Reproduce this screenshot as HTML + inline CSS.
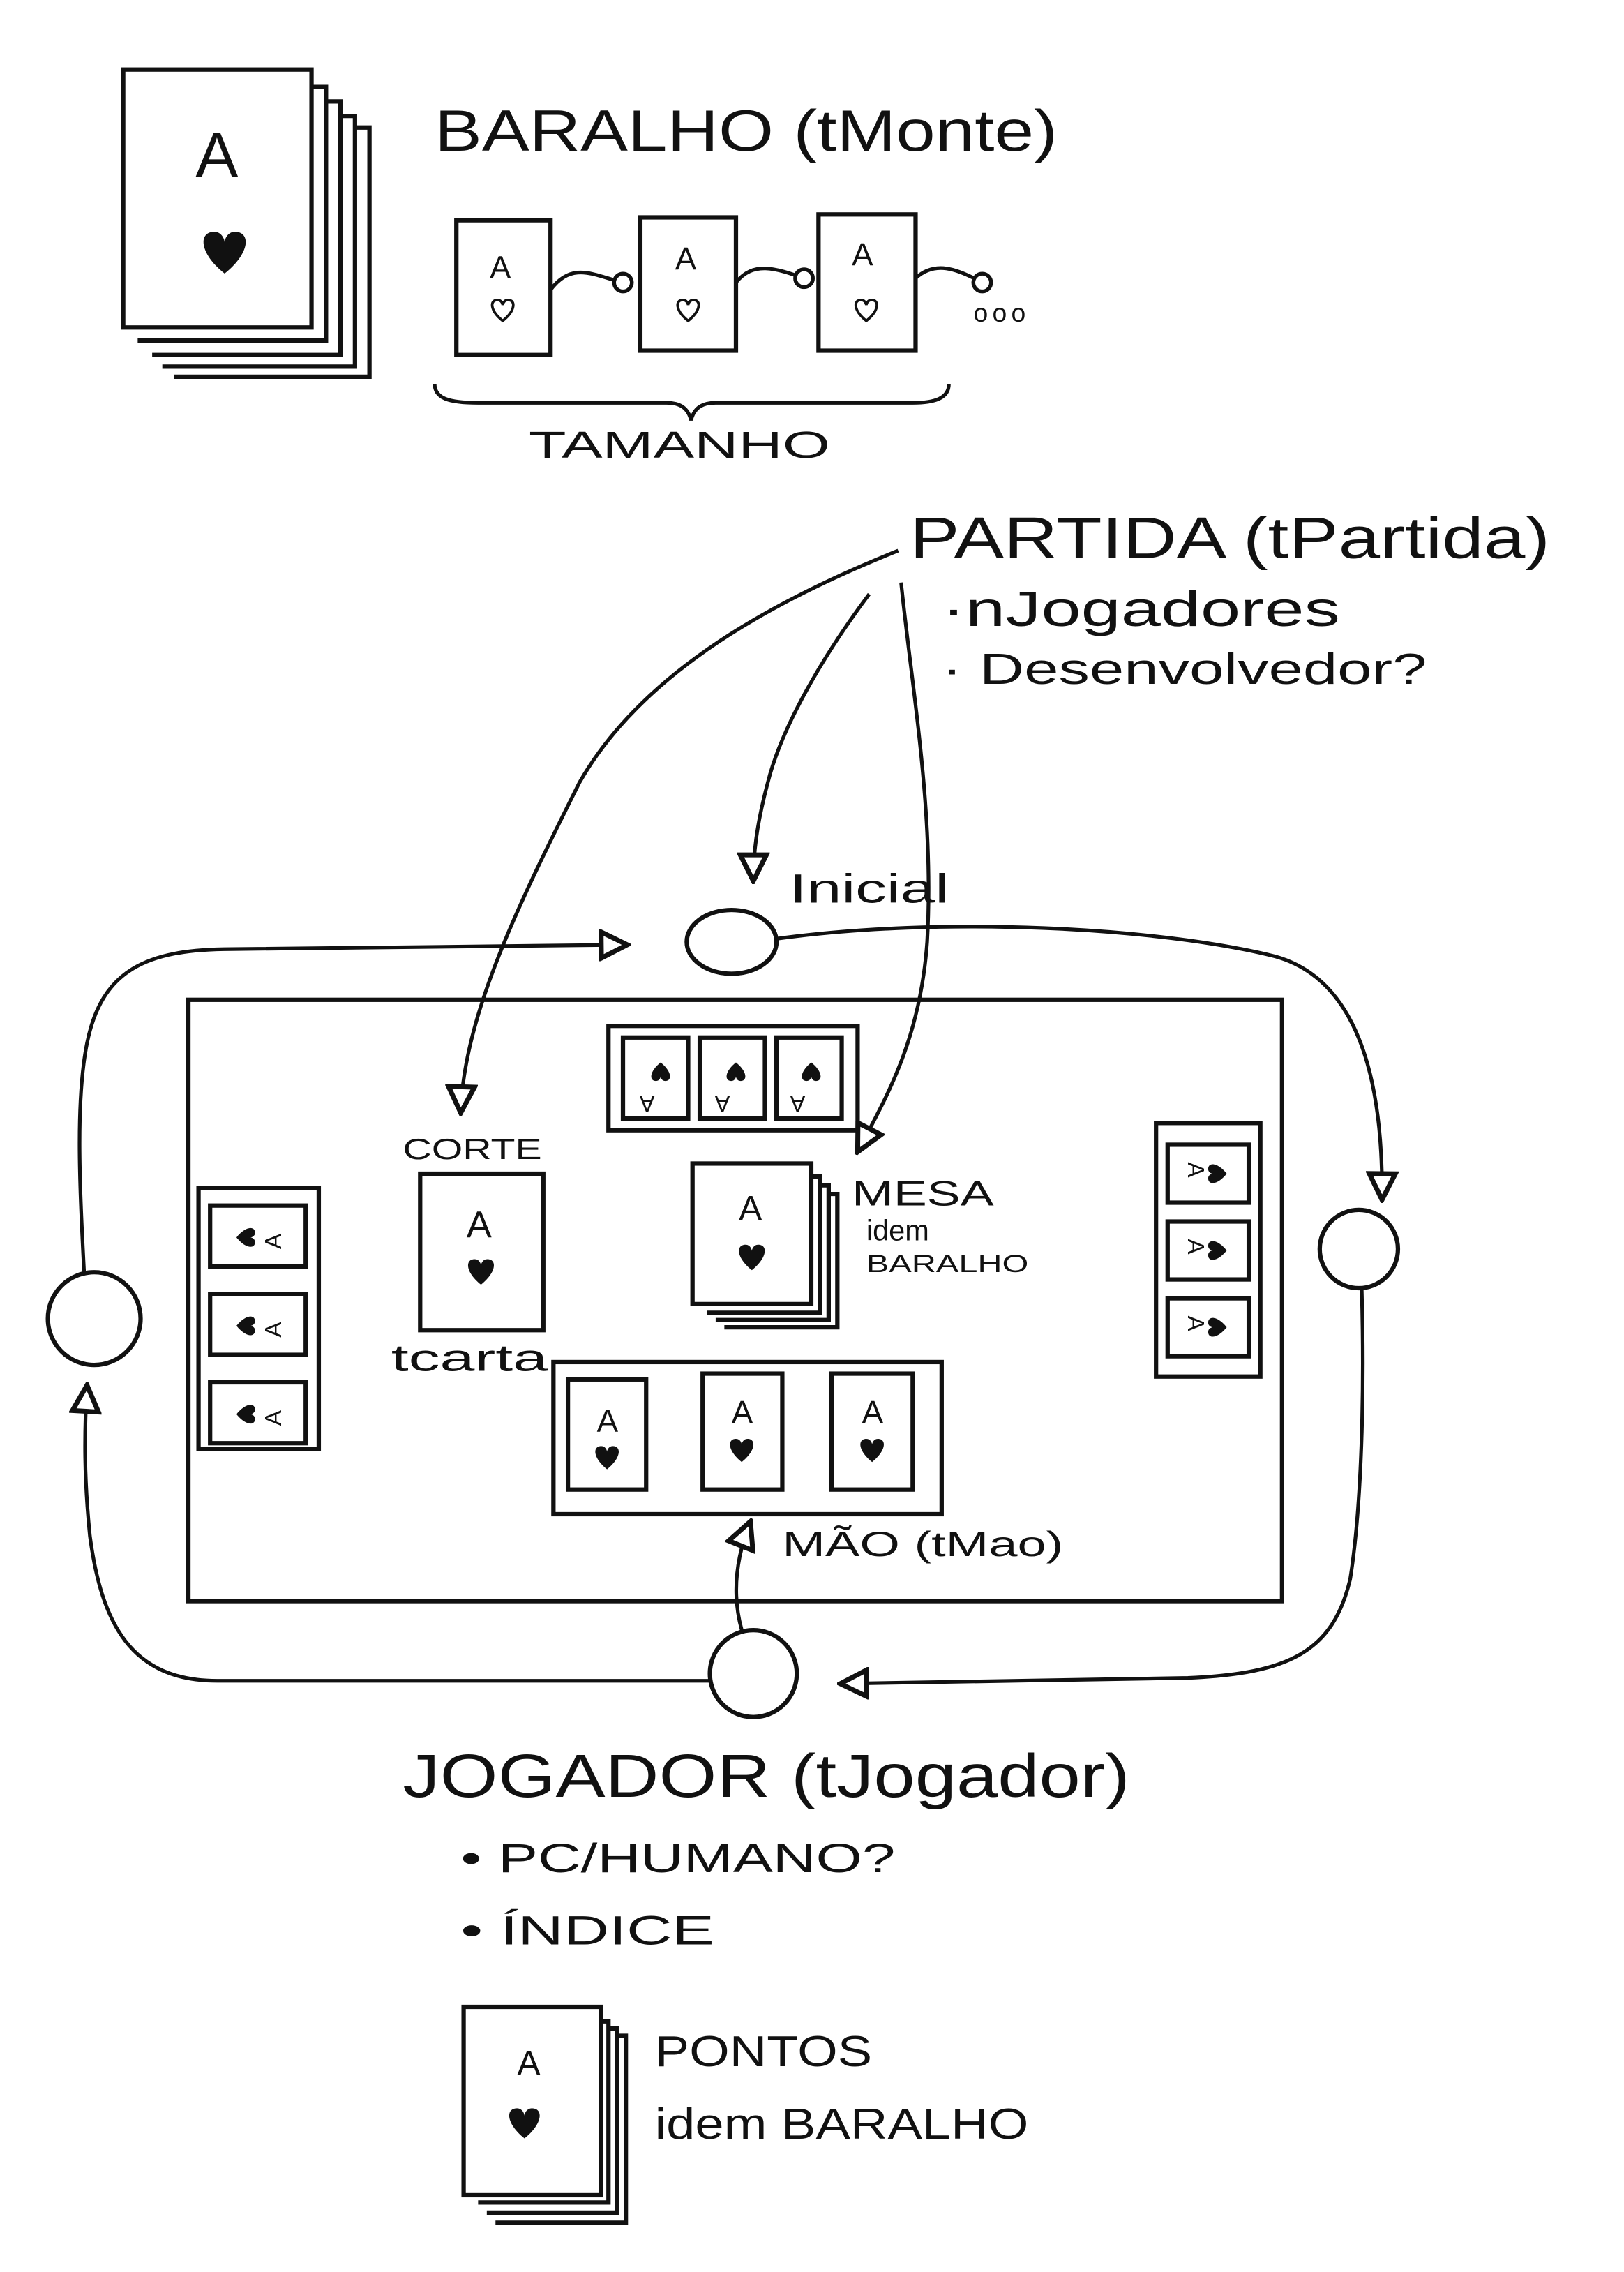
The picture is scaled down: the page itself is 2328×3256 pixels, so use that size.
<!DOCTYPE html>
<html><head><meta charset="utf-8"><style>
html,body{margin:0;padding:0;background:#fff;}
svg{display:block;}
text{font-family:"Liberation Sans",sans-serif;fill:#111;}
</style></head><body>
<svg width="2328" height="3256" viewBox="0 0 1121 1568" xmlns="http://www.w3.org/2000/svg">
<defs>
<marker id="ar" viewBox="0 0 10 10" refX="9" refY="5" markerWidth="9" markerHeight="9" orient="auto"><path d="M1,1 L9,5 L1,9 Z" fill="#fff" stroke="#111" stroke-width="1.5"/></marker>
<marker id="dot" viewBox="0 0 10 10" refX="5" refY="5" markerWidth="7" markerHeight="7"><circle cx="5" cy="5" r="3.5" fill="#fff" stroke="#111" stroke-width="1.5"/></marker>
<path id="heart" d="M0,6 C-10,-2 -10,-10 -4,-10 C-1,-10 0,-7 0,-6 C0,-7 1,-10 4,-10 C10,-10 10,-2 0,6 Z"/>
</defs>
<rect width="1121" height="1568" fill="#fff"/>
<g fill="none" stroke="#111" stroke-width="3">
<path d="M215,60 L225,60 L225,235 L95,235 M225,70 L235,70 L235,245 L105,245 M235,80 L245,80 L245,253 L112,253 M245,88 L255,88 L255,260 L120,260"/>
<rect x="85" y="48" width="130" height="178" fill="#fff"/>
<rect x="315" y="152" width="65" height="93"/>
<rect x="442" y="150" width="66" height="92"/>
<rect x="565" y="148" width="67" height="94"/>
<path d="M380,200 C395,180 410,190 430,195" marker-end="url(#dot)" stroke-width="2.5"/>
<path d="M508,195 C520,180 535,185 555,192" marker-end="url(#dot)" stroke-width="2.5"/>
<path d="M632,192 C645,180 660,185 678,195" marker-end="url(#dot)" stroke-width="2.5"/>
<path d="M300,265 C300,275 310,278 330,278 L460,278 C470,278 475,282 477,290 C479,282 484,278 494,278 L630,278 C645,278 655,275 655,265" stroke-width="2.5"/>
<path d="M620,380 C520,420 440,470 400,540 C360,620 320,700 318,768" marker-end="url(#ar)" stroke-width="2.5"/>
<path d="M600,410 C570,450 540,500 530,540 C522,570 520,590 520,608" marker-end="url(#ar)" stroke-width="2.5"/>
<path d="M622,402 C630,480 645,560 640,650 C635,720 610,760 592,795" marker-end="url(#ar)" stroke-width="2.5"/>
<ellipse cx="505" cy="650" rx="31" ry="22"/>
<rect x="130" y="690" width="755" height="415"/>
<rect x="420" y="708" width="172" height="72"/>
<rect x="430" y="716" width="45" height="56"/><rect x="483" y="716" width="45" height="56"/><rect x="536" y="716" width="45" height="56"/>
<rect x="798" y="775" width="72" height="175"/>
<rect x="806" y="790" width="56" height="40"/><rect x="806" y="843" width="56" height="40"/><rect x="806" y="896" width="56" height="40"/>
<rect x="137" y="820" width="83" height="180"/>
<rect x="145" y="832" width="66" height="42"/><rect x="145" y="893" width="66" height="42"/><rect x="145" y="954" width="66" height="42"/>
<rect x="290" y="810" width="85" height="108"/>
<path d="M560,812 L566,812 L566,906 L488,906 M566,818 L572,818 L572,911 L494,911 M572,824 L578,824 L578,916 L500,916"/>
<rect x="478" y="803" width="82" height="97" fill="#fff"/>
<rect x="382" y="940" width="268" height="105"/>
<rect x="392" y="952" width="54" height="76"/><rect x="485" y="948" width="55" height="80"/><rect x="574" y="948" width="56" height="80"/>
<circle cx="65" cy="910" r="32" fill="#fff"/>
<circle cx="938" cy="862" r="27" fill="#fff"/>
<circle cx="520" cy="1155" r="30" fill="#fff"/>
<path d="M58,878 C55,820 52,760 60,720 C70,670 100,655 160,655 L433,652" marker-end="url(#ar)" stroke-width="2.5"/>
<path d="M535,648 C650,632 800,640 880,660 C935,675 955,740 954,828" marker-end="url(#ar)" stroke-width="2.5"/>
<path d="M940,890 C942,960 940,1040 932,1090 C920,1140 890,1155 820,1158 L580,1162" marker-end="url(#ar)" stroke-width="2.5"/>
<path d="M490,1160 L150,1160 C90,1160 70,1120 62,1060 C58,1020 58,990 60,956" marker-end="url(#ar)" stroke-width="2.5"/>
<path d="M512,1125 C505,1100 508,1075 518,1050" marker-end="url(#ar)" stroke-width="2.5"/>
<path d="M415,1395 L420,1395 L420,1520 L330,1520 M420,1400 L426,1400 L426,1527 L336,1527 M426,1405 L432,1405 L432,1534 L342,1534"/>
<rect x="320" y="1385" width="95" height="130" fill="#fff"/>
</g>
<g fill="#111">
<use href="#heart" transform="translate(155,178) scale(1.8)"/>
<use href="#heart" transform="translate(332,880) scale(1.1)"/>
<use href="#heart" transform="translate(519,870) scale(1.1)"/>
<use href="#heart" transform="translate(419,1008) scale(1)"/>
<use href="#heart" transform="translate(512,1003) scale(1)"/>
<use href="#heart" transform="translate(602,1003) scale(1)"/>
<use href="#heart" transform="translate(362,1468) scale(1.3)"/>
<use href="#heart" transform="translate(456,738) rotate(180) scale(0.8)"/>
<use href="#heart" transform="translate(508,738) rotate(180) scale(0.8)"/>
<use href="#heart" transform="translate(560,738) rotate(180) scale(0.8)"/>
<use href="#heart" transform="translate(842,810) rotate(-90) scale(0.8)"/>
<use href="#heart" transform="translate(842,863) rotate(-90) scale(0.8)"/>
<use href="#heart" transform="translate(842,916) rotate(-90) scale(0.8)"/>
<use href="#heart" transform="translate(168,854) rotate(90) scale(0.8)"/>
<use href="#heart" transform="translate(168,915) rotate(90) scale(0.8)"/>
<use href="#heart" transform="translate(168,976) rotate(90) scale(0.8)"/>
</g>
<g fill="none" stroke="#111" stroke-width="2">
<use href="#heart" transform="translate(347,216) scale(0.9)"/>
<use href="#heart" transform="translate(475,216) scale(0.9)"/>
<use href="#heart" transform="translate(598,216) scale(0.9)"/>
</g>
<g font-size="16">
<text transform="translate(452,756) rotate(180)">A</text>
<text transform="translate(504,756) rotate(180)">A</text>
<text transform="translate(556,756) rotate(180)">A</text>
<text transform="translate(820,802) rotate(90)">A</text>
<text transform="translate(820,855) rotate(90)">A</text>
<text transform="translate(820,908) rotate(90)">A</text>
<text transform="translate(194,862) rotate(-90)">A</text>
<text transform="translate(194,923) rotate(-90)">A</text>
<text transform="translate(194,984) rotate(-90)">A</text>
</g>
<text x="135" y="122" font-size="44">A</text>
<text x="338" y="192" font-size="22">A</text>
<text x="466" y="186" font-size="22">A</text>
<text x="588" y="183" font-size="22">A</text>
<text x="672" y="222" font-size="18" letter-spacing="3">ooo</text>
<text x="300" y="104" font-size="40" textLength="430" lengthAdjust="spacingAndGlyphs">BARALHO (tMonte)</text>
<text x="365" y="316" font-size="26" textLength="208" lengthAdjust="spacingAndGlyphs">TAMANHO</text>
<text x="628" y="385" font-size="40" textLength="442" lengthAdjust="spacingAndGlyphs">PARTIDA (tPartida)</text>
<text x="650" y="432" font-size="34" textLength="275" lengthAdjust="spacingAndGlyphs">·nJogadores</text>
<text x="650" y="472" font-size="30" textLength="335" lengthAdjust="spacingAndGlyphs">· Desenvolvedor?</text>
<text x="545" y="623" font-size="28" textLength="110" lengthAdjust="spacingAndGlyphs">Inicial</text>
<text x="278" y="800" font-size="20" textLength="96" lengthAdjust="spacingAndGlyphs">CORTE</text>
<text x="322" y="854" font-size="26">A</text>
<text x="270" y="946" font-size="26" textLength="108" lengthAdjust="spacingAndGlyphs">tcarta</text>
<text x="510" y="842" font-size="24">A</text>
<text x="588" y="832" font-size="24" textLength="98" lengthAdjust="spacingAndGlyphs">MESA</text>
<text x="598" y="856" font-size="20">idem</text>
<text x="598" y="878" font-size="17" textLength="112" lengthAdjust="spacingAndGlyphs">BARALHO</text>
<text x="412" y="988" font-size="22">A</text>
<text x="505" y="982" font-size="22">A</text>
<text x="595" y="982" font-size="22">A</text>
<text x="540" y="1074" font-size="24" textLength="194" lengthAdjust="spacingAndGlyphs">MÃO (tMao)</text>
<text x="278" y="1240" font-size="42" textLength="502" lengthAdjust="spacingAndGlyphs">JOGADOR (tJogador)</text>
<text x="318" y="1292" font-size="28" textLength="300" lengthAdjust="spacingAndGlyphs">• PC/HUMANO?</text>
<text x="318" y="1342" font-size="28" textLength="175" lengthAdjust="spacingAndGlyphs">• ÍNDICE</text>
<text x="357" y="1432" font-size="24">A</text>
<text x="452" y="1426" font-size="30" textLength="150" lengthAdjust="spacingAndGlyphs">PONTOS</text>
<text x="452" y="1476" font-size="30" textLength="258" lengthAdjust="spacingAndGlyphs">idem BARALHO</text>
</svg>
</body></html>
